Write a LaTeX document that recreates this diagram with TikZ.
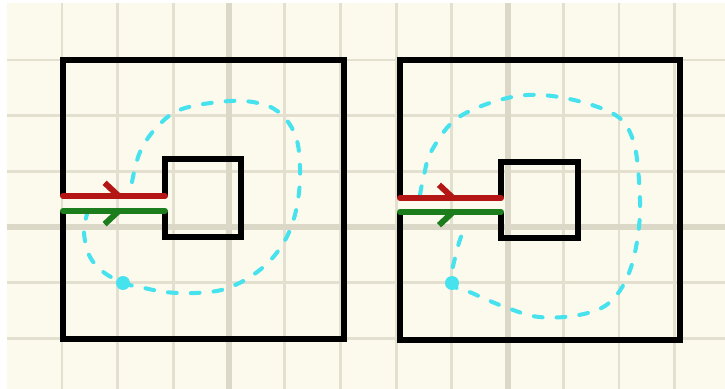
\documentclass[tikz,border=0pt]{standalone}
\usetikzlibrary{arrows.meta, decorations.markings}
\definecolor{paper}{RGB}{252,250,236}
\definecolor{gridline}{RGB}{228,224,208}
\definecolor{gridbold}{RGB}{220,216,200}
\definecolor{cutred}{RGB}{180,22,22}
\definecolor{cutgreen}{RGB}{28,125,28}
\definecolor{loopcyan}{RGB}{70,226,238}

\begin{document}
\begin{tikzpicture}[x=0.02cm, y=-0.02cm,
	thinline/.style={draw=gridline, line width=1.7pt},
	boldline/.style={draw=gridbold, line width=3.2pt},
	wall/.style={draw=black, line width=2.9pt},
	redcut/.style={draw=cutred, line width=3.4pt, line cap=round, postaction={decorate},
		decoration={markings, mark=at position #1 with {\arrow{Straight Barb[left, length=8pt, width=15pt]}}}},
	greencut/.style={draw=cutgreen, line width=3.4pt, line cap=round, postaction={decorate},
		decoration={markings, mark=at position #1 with {\arrow{Straight Barb[right, length=8pt, width=15pt]}}}},
	loopline/.style={draw=loopcyan, line width=2.3pt, line cap=round, dash pattern=on 5pt off 8pt},
	loopdot/.style={fill=loopcyan}
	]
	% paper and grid
	\useasboundingbox (0,0) rectangle (725,389);
	\fill[white] (0,0) rectangle (725,389);
	\fill[paper] (7,3) rectangle (725,389);
	\foreach \k in {1,...,12}
		\draw[thinline] ({62+55.7*(\k-1)},3) -- ({62+55.7*(\k-1)},389);
	\foreach \k in {1,...,6}
		\draw[thinline] (7,{60+55.7*(\k-1)}) -- (725,{60+55.7*(\k-1)});
	\draw[boldline] (229,3) -- (229,389);
	\draw[boldline] (508,3) -- (508,389);
	\draw[boldline] (7,227) -- (725,227);
	
	% Left sketch
	\coordinate (lredA) at (63,196);
	\coordinate (lredB) at (165,196);
	\coordinate (lgreenA) at (63,211);
	\coordinate (lgreenB) at (165,211);
	\draw[wall] (lredA) -- (63,60) -- (344,60) -- (344,339) -- (63,339) -- (lgreenA);
	\draw[wall] (lredB) -- (165,159) -- (241,159) -- (241,237) -- (165,237) -- (lgreenB);
	\draw[loopline] plot[smooth, tension=0.6] coordinates {(132,182) (140,152) (157,127) (182,109) (230,101) (262,104) (282,115) (296,137) (300,168) (298,200) (290,230) (275,255) (253,275) (225,289) (195,293) (165,292) (140,287) (123,283) (102,271) (89,255) (84,232) (87,214)};
	\fill[loopdot] (123,283) circle (7);
	\draw[redcut=0.62] (lredA) -- (lredB);
	\draw[greencut=0.62] (lgreenA) -- (lgreenB);
	
	% Right sketch
	\coordinate (rredA) at (400,198);
	\coordinate (rredB) at (501,198);
	\coordinate (rgreenA) at (400,212);
	\coordinate (rgreenB) at (501,212);
	\draw[wall] (rredA) -- (400,60) -- (680,60) -- (680,340) -- (400,340) -- (rgreenA);
	\draw[wall] (rredB) -- (501,162) -- (578,162) -- (578,238) -- (501,238) -- (rgreenB);
	\draw[loopline] plot[smooth, tension=0.6] coordinates {(420,195) (424,175) (432,150) (459,117) (512,97) (559,97) (612,113) (632,137) (639,180) (639,227) (629,273) (609,303) (579,315) (539,317) (505,307) (472,293) (452,283) (457,250) (465,226)};
	\fill[loopdot] (452,283) circle (7);
	\draw[redcut=0.6] (rredA) -- (rredB);
	\draw[greencut=0.6] (rgreenA) -- (rgreenB);
\end{tikzpicture}
\end{document}
